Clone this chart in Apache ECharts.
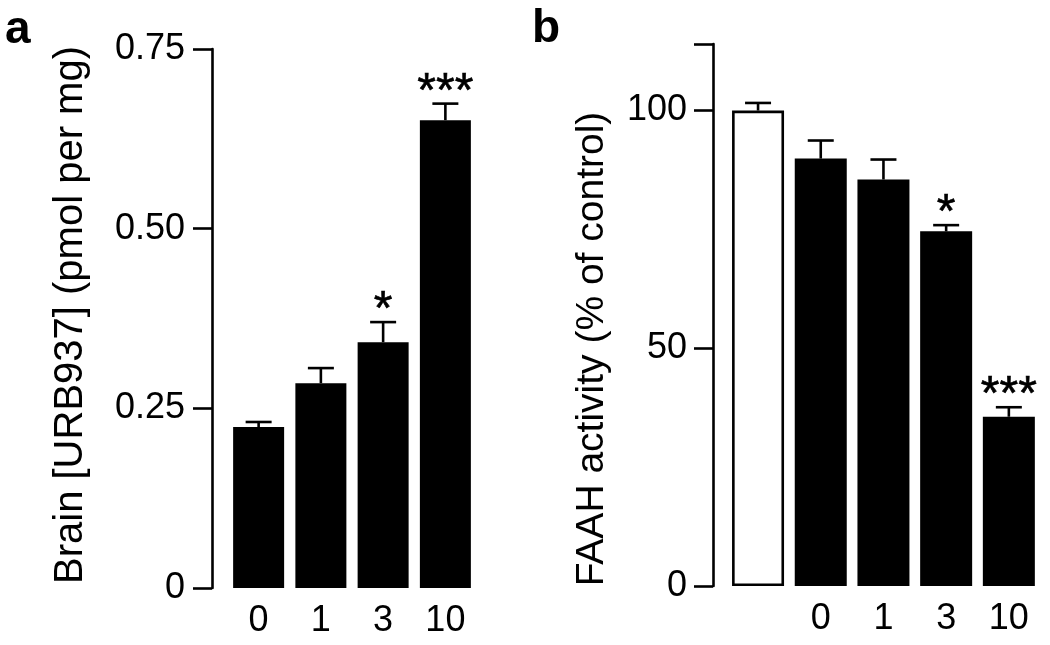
<!DOCTYPE html>
<html><head><meta charset="utf-8">
<script src="https://cdn.jsdelivr.net/npm/echarts@6/dist/echarts.min.js"></script>
<style>html,body{margin:0;padding:0;background:#fff}#c{width:1050px;height:645px}</style>
</head><body><div id="c"></div>
<script>
// ---- Panel a: brain URB937 ----
const catA = ['0', '1', '3', '10'];
const brainMean = [0.224, 0.285, 0.342, 0.651];
const brainSem = [0.007, 0.021, 0.028, 0.023];
const brainSig = ['', '', '*', '***'];
const ticksA = [0, 0.25, 0.5, 0.75];
const tickLabelsA = ['0', '0.25', '0.50', '0.75'];

// ---- Panel b: FAAH activity ----
const catB = ['', '0', '1', '3', '10'];
const faahMean = [100, 89.9, 85.5, 74.6, 35.6];
const faahSem = [1.6, 3.8, 4.2, 1.3, 2.0];
const faahSig = ['', '', '', '*', '***'];
const ticksB = [0, 50, 100];
const tickLabelsB = ['0', '50', '100'];

const FONT = '"Liberation Sans", Arial, Helvetica, sans-serif';

function errRender(sigArr, capHalf) {
  return function (params, api) {
    const i = api.value(0), m = api.value(1), s = api.value(2);
    const base = api.coord([i, m]);
    const top = api.coord([i, m + s]);
    const st = { stroke: '#000', lineWidth: 2.6 };
    const children = [
      { type: 'line', shape: { x1: base[0], y1: base[1], x2: top[0], y2: top[1] }, style: st },
      { type: 'line', shape: { x1: top[0] - capHalf, y1: top[1], x2: top[0] + capHalf, y2: top[1] }, style: st }
    ];
    const sig = sigArr[params.dataIndex];
    if (sig) {
      children.push({ type: 'text', style: { text: sig, x: top[0], y: top[1] - 11,
        align: 'center', verticalAlign: 'middle', font: '48px ' + FONT, fill: '#000',
        stroke: '#000', lineWidth: 0.6 } });
    }
    return { type: 'group', children };
  };
}

function labelFmt(ticks, labels) {
  return function (v) {
    for (let k = 0; k < ticks.length; k++) if (Math.abs(ticks[k] - v) < 1e-9) return labels[k];
    return '';
  };
}

const axisStyle = { show: true, lineStyle: { color: '#000', width: 2.6 } };
const tickStyle = { show: true, length: 19, lineStyle: { color: '#000', width: 2.6 } };
const lblStyle = { color: '#000', fontSize: 36, fontFamily: FONT };

const chart = echarts.init(document.getElementById('c'), null, { renderer: 'canvas' });
chart.setOption({
  animation: false,
  backgroundColor: '#fff',
  grid: [
    { left: 227.5, top: 49, width: 249, height: 539 },
    { left: 726.7, top: 44, width: 313.5, height: 542 }
  ],
  xAxis: [
    { type: 'category', gridIndex: 0, data: catA, axisLine: { show: false }, axisTick: { show: false },
      axisLabel: Object.assign({ margin: 15 }, lblStyle) },
    { type: 'category', gridIndex: 1, data: catB, axisLine: { show: false }, axisTick: { show: false },
      axisLabel: Object.assign({ margin: 15 }, lblStyle) }
  ],
  yAxis: [
    { type: 'value', gridIndex: 0, min: 0, max: 0.75, interval: 0.25, offset: 15.5,
      axisLine: axisStyle, axisTick: tickStyle, splitLine: { show: false },
      axisLabel: Object.assign({ margin: 27, formatter: labelFmt(ticksA, tickLabelsA) }, lblStyle) },
    { type: 'value', gridIndex: 1, min: 0, max: 114, interval: 50, offset: 13.7,
      axisLine: axisStyle, axisTick: tickStyle, splitLine: { show: false },
      axisLabel: Object.assign({ margin: 26, formatter: labelFmt(ticksB, tickLabelsB) }, lblStyle) }
  ],
  series: [
    { type: 'bar', xAxisIndex: 0, yAxisIndex: 0, barWidth: 51, data: brainMean,
      itemStyle: { color: '#000' } },
    { type: 'custom', xAxisIndex: 0, yAxisIndex: 0, z: 5,
      renderItem: errRender(brainSig, 13),
      data: brainMean.map((m, i) => [i, m, brainSem[i]]) },
    { type: 'bar', xAxisIndex: 1, yAxisIndex: 1, barWidth: 52,
      data: faahMean.map((v, i) => i === 0
        ? { value: v, itemStyle: { color: '#fff', borderColor: '#000', borderWidth: 2.6 } }
        : { value: v, itemStyle: { color: '#000' } }) },
    { type: 'custom', xAxisIndex: 1, yAxisIndex: 1, z: 5,
      renderItem: errRender(faahSig, 13),
      data: faahMean.map((m, i) => [i, m, faahSem[i]]) }
  ],
  graphic: [
    { type: 'text', x: 71, y: 315, rotation: Math.PI / 2,
      style: { text: 'Brain [URB937] (pmol per mg)', font: '40px ' + FONT, fill: '#000',
        align: 'center', verticalAlign: 'middle', textAlign: 'center', textVerticalAlign: 'middle' } },
    { type: 'text', x: 592, y: 349, rotation: Math.PI / 2,
      style: { text: 'FAAH activity (% of control)', font: '39px ' + FONT, fill: '#000',
        align: 'center', verticalAlign: 'middle', textAlign: 'center', textVerticalAlign: 'middle' } },
    { type: 'text', x: 5, y: 30,
      style: { text: 'a', font: 'bold 46px ' + FONT, fill: '#000',
        align: 'left', verticalAlign: 'middle', textAlign: 'left', textVerticalAlign: 'middle' } },
    { type: 'text', x: 532, y: 29,
      style: { text: 'b', font: 'bold 46px ' + FONT, fill: '#000',
        align: 'left', verticalAlign: 'middle', textAlign: 'left', textVerticalAlign: 'middle' } }
  ]
});
</script>
</body></html>
